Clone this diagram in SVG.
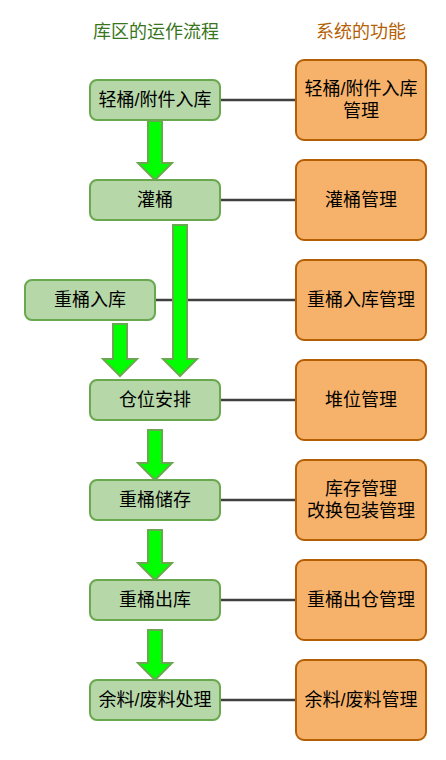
<svg xmlns="http://www.w3.org/2000/svg" width="446" height="760" viewBox="0 0 446 760">
<style>
text{font-family:"Liberation Sans","Noto Sans CJK SC",sans-serif;font-size:18px;text-anchor:middle;dominant-baseline:central;fill:#000}
.g{fill:#b6d7a8;stroke:#6aa84f;stroke-width:2}
.o{fill:#f6b26b;stroke:#b45f06;stroke-width:2}
.ln{stroke:#404040;stroke-width:2.5;fill:none}
.ar{fill:#00ff00;stroke:#6aa84f;stroke-width:2;stroke-linejoin:miter}
.t1{fill:#38761d}
.t2{fill:#b45f06}
</style>
<text class="t1" x="156" y="32">库区的运作流程</text>
<text class="t2" x="361" y="32">系统的功能</text>
<g id="connectors">
<line class="ln" x1="220" y1="100" x2="296" y2="100"/>
<line class="ln" x1="220" y1="200" x2="296" y2="200"/>
<line class="ln" x1="155" y1="300" x2="296" y2="300"/>
<line class="ln" x1="220" y1="400" x2="296" y2="400"/>
<line class="ln" x1="220" y1="500" x2="296" y2="500"/>
<line class="ln" x1="220" y1="600" x2="296" y2="600"/>
<line class="ln" x1="220" y1="700" x2="296" y2="700"/>
<path class="ar" d="M148,121 H162 V163 H172 L155,180 L138,163 H148 Z"/>
<path class="ar" d="M173,225 H187 V359 H197 L180,376 L163,359 H173 Z"/>
<path class="ar" d="M113,324 H127 V359 H137 L120,376 L103,359 H113 Z"/>
<path class="ar" d="M148,430 H162 V463 H172 L155,480 L138,463 H148 Z"/>
<path class="ar" d="M148,530 H162 V563 H172 L155,580 L138,563 H148 Z"/>
<path class="ar" d="M148,630 H162 V663 H172 L155,680 L138,663 H148 Z"/>
</g>
<g id="n1"><rect class="g" x="90" y="80" width="130" height="40" rx="7"/><text x="155" y="100">轻桶/附件入库</text></g>
<g id="n2"><rect class="g" x="90" y="180" width="130" height="40" rx="7"/><text x="155" y="200">灌桶</text></g>
<g id="n3"><rect class="g" x="25" y="280" width="130" height="40" rx="7"/><text x="90" y="300">重桶入库</text></g>
<g id="n4"><rect class="g" x="90" y="380" width="130" height="40" rx="7"/><text x="155" y="400">仓位安排</text></g>
<g id="n5"><rect class="g" x="90" y="480" width="130" height="40" rx="7"/><text x="155" y="500">重桶储存</text></g>
<g id="n6"><rect class="g" x="90" y="580" width="130" height="40" rx="7"/><text x="155" y="600">重桶出库</text></g>
<g id="n7"><rect class="g" x="90" y="680" width="130" height="40" rx="7"/><text x="155" y="700">余料/废料处理</text></g>
<g id="f1"><rect class="o" x="296" y="60" width="130" height="80" rx="8"/><text x="361" y="89">轻桶/附件入库</text><text x="361" y="111">管理</text></g>
<g id="f2"><rect class="o" x="296" y="160" width="130" height="80" rx="8"/><text x="361" y="200">灌桶管理</text></g>
<g id="f3"><rect class="o" x="296" y="260" width="130" height="80" rx="8"/><text x="361" y="300">重桶入库管理</text></g>
<g id="f4"><rect class="o" x="296" y="360" width="130" height="80" rx="8"/><text x="361" y="400">堆位管理</text></g>
<g id="f5"><rect class="o" x="296" y="460" width="130" height="80" rx="8"/><text x="361" y="489">库存管理</text><text x="361" y="511">改换包装管理</text></g>
<g id="f6"><rect class="o" x="296" y="560" width="130" height="80" rx="8"/><text x="361" y="600">重桶出仓管理</text></g>
<g id="f7"><rect class="o" x="296" y="660" width="130" height="80" rx="8"/><text x="361" y="700">余料/废料管理</text></g>
</svg>
